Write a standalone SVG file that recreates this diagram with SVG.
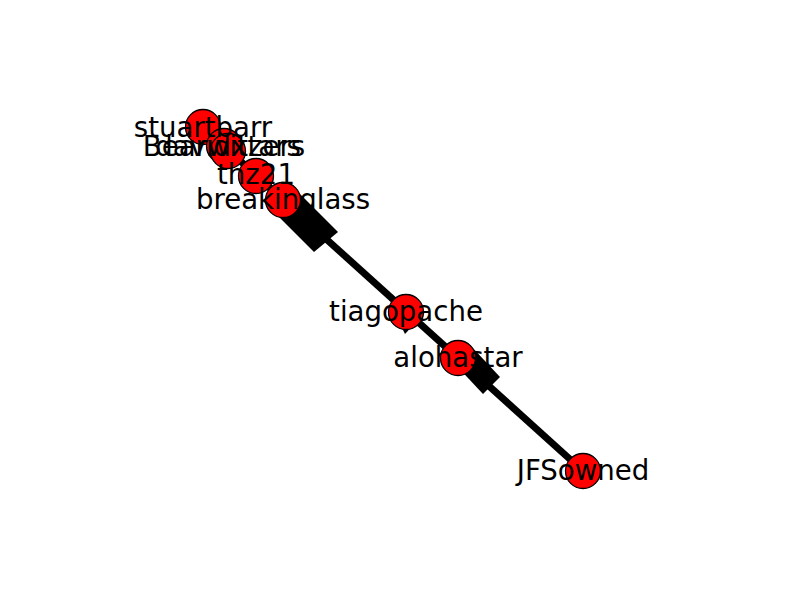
<svg xmlns="http://www.w3.org/2000/svg" width="800" height="600" viewBox="0 0 800 600">
<style>
.node{fill:#ff0000;stroke:#000;stroke-width:1.3}
.lbl{font-family:"DejaVu Sans",sans-serif;font-size:27.6px;fill:#000;text-anchor:middle;dominant-baseline:central}
.edge{stroke:#000;stroke-width:7;fill:none}
.bar{fill:#000}
</style>
<rect width="800" height="600" fill="#fff"/>
<g id="edges">
<line class="edge" x1="203" y1="127" x2="283" y2="200"/>
<line class="edge" x1="283" y1="200" x2="583" y2="471"/>
<polygon class="bar" points="295,189 338,232 314,252 271,209"/>
<polygon class="bar" points="470,345 500,377 483,394 453,362"/>
<polygon class="bar" points="398,320 418,320 405,334"/>
</g>
<g id="node-stuartbarr"><circle class="node" cx="203" cy="127" r="17.5"/></g>
<g id="node-Bearwitzers"><circle class="node" cx="224" cy="146" r="17.5"/></g>
<g id="node-davidxtars"><circle class="node" cx="228" cy="151" r="17.5"/></g>
<g id="node-thz21"><circle class="node" cx="256" cy="176" r="17.5"/></g>
<g id="node-breakinglass"><circle class="node" cx="283" cy="200" r="17.5"/></g>
<g id="node-tiagopache"><circle class="node" cx="406" cy="312" r="17.5"/></g>
<g id="node-alohastar"><circle class="node" cx="458" cy="358" r="17.5"/></g>
<g id="node-JFSowned"><circle class="node" cx="583" cy="471" r="17.5"/></g>
<g id="labels">
<text class="lbl" x="224" y="146">Bearwitzers</text>
<text class="lbl" x="228" y="146">davidxtars</text>
<text class="lbl" x="203" y="127">stuartbarr</text>
<text class="lbl" x="256" y="174">thz21</text>
<text class="lbl" x="283" y="199">breakinglass</text>
<text class="lbl" x="406" y="311">tiagopache</text>
<text class="lbl" x="458" y="357">alohastar</text>
<text class="lbl" x="583" y="470">JFSowned</text>
</g>
</svg>
